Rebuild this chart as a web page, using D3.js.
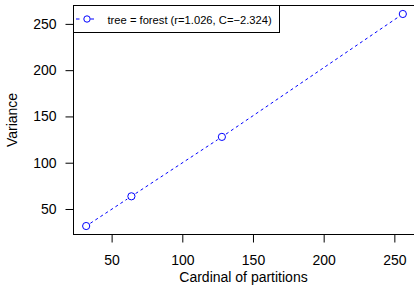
<!DOCTYPE html>
<html>
<head>
<meta charset="utf-8">
<script src="https://cdn.jsdelivr.net/npm/d3@7"></script>
<style>
  body { margin: 0; background: #fff; }
  text { font-family: "Liberation Sans", Arial, sans-serif; }
</style>
</head>
<body>
<div id="chart"></div>
<script>
var width = 414,
    height = 293;

// data
var partitions = [32, 64, 128, 256];
var variance = [31.6, 63.7, 127.9, 260.7];
var xTicks = [50, 100, 150, 200, 250];
var yTicks = [50, 100, 150, 200, 250];
var legendLabel = "tree = forest (r=1.026, C=\u22122.324)";

var pLeft = 73.5, pRight = 415.5, pTop = 5.5, pBottom = 234.5;

var svg = d3.select("#chart").append("svg")
    .attr("width", width)
    .attr("height", height);

// R style 4% expansion of the ranges
var xr = d3.extent(partitions), yr = d3.extent(variance);
var xpad = (xr[1] - xr[0]) * 0.04, ypad = (yr[1] - yr[0]) * 0.04;

var x = d3.scaleLinear()
    .domain([xr[0] - xpad, xr[1] + xpad])
    .range([pLeft, pRight]);

var y = d3.scaleLinear()
    .domain([yr[0] - ypad, yr[1] + ypad])
    .range([pBottom, pTop]);

var pts = partitions.map(function (d, i) { return {x: d, y: variance[i]}; });

// segments between points, with gaps around symbols (type = "b")
var gap = 5;
var segs = [];
for (var i = 0; i < pts.length - 1; i++) {
    var x0 = x(pts[i].x), y0 = y(pts[i].y), x1 = x(pts[i + 1].x), y1 = y(pts[i + 1].y);
    var len = Math.sqrt((x1 - x0) * (x1 - x0) + (y1 - y0) * (y1 - y0));
    var ux = (x1 - x0) / len, uy = (y1 - y0) / len;
    segs.push([x0 + ux * gap, y0 + uy * gap, x1 - ux * gap, y1 - uy * gap]);
}

svg.selectAll("line.seg")
    .data(segs)
    .enter().append("line")
    .attr("class", "seg")
    .attr("x1", function (d) { return d[0]; })
    .attr("y1", function (d) { return d[1]; })
    .attr("x2", function (d) { return d[2]; })
    .attr("y2", function (d) { return d[3]; })
    .style("stroke", "#0000ff")
    .style("stroke-width", 1)
    .style("stroke-dasharray", "3,3");

svg.selectAll("circle.pt")
    .data(pts)
    .enter().append("circle")
    .attr("class", "pt")
    .attr("cx", function (d) { return x(d.x); })
    .attr("cy", function (d) { return y(d.y); })
    .attr("r", 3.6)
    .style("fill", "none")
    .style("stroke", "#0000ff")
    .style("stroke-width", 1);

// axes
var xAxis = svg.append("g")
    .attr("transform", "translate(0," + pBottom + ")")
    .call(d3.axisBottom(x).tickValues(xTicks).tickSize(8).tickPadding(13));
var yAxis = svg.append("g")
    .attr("transform", "translate(" + pLeft + ",0)")
    .call(d3.axisLeft(y).tickValues(yTicks).tickSize(8).tickPadding(9));

[xAxis, yAxis].forEach(function (g) {
    g.select(".domain").remove();
    g.selectAll("line").style("stroke", "#000");
    g.selectAll("text")
        .style("font-family", "Liberation Sans, Arial, sans-serif")
        .style("font-size", "14px")
        .style("fill", "#000");
});

// plot box
svg.append("rect")
    .attr("x", pLeft)
    .attr("y", pTop)
    .attr("width", pRight - pLeft)
    .attr("height", pBottom - pTop)
    .style("fill", "none")
    .style("stroke", "#000")
    .style("stroke-width", 1);

svg.append("text")
    .attr("x", 243.5)
    .attr("y", 282)
    .attr("text-anchor", "middle")
    .style("font-size", "14px")
    .text("Cardinal of partitions");

svg.append("text")
    .attr("transform", "translate(17," + ((pTop + pBottom) / 2) + ") rotate(-90)")
    .attr("text-anchor", "middle")
    .style("font-size", "14px")
    .text("Variance");

// legend
var legend = svg.append("g").attr("class", "legend");
legend.append("rect")
    .attr("x", pLeft)
    .attr("y", pTop)
    .attr("width", 206)
    .attr("height", 27)
    .style("fill", "#fff")
    .style("stroke", "#000")
    .style("stroke-width", 1);
legend.append("line")
    .attr("x1", 76).attr("x2", 79.5)
    .attr("y1", 19).attr("y2", 19)
    .style("stroke", "#0000ff");
legend.append("line")
    .attr("x1", 90.5).attr("x2", 94)
    .attr("y1", 19).attr("y2", 19)
    .style("stroke", "#0000ff");
legend.append("circle")
    .attr("cx", 87).attr("cy", 19).attr("r", 3.2)
    .style("fill", "none")
    .style("stroke", "#0000ff");
legend.append("text")
    .attr("x", 107.5)
    .attr("y", 23.5)
    .style("font-size", "11.2px")
    .text(legendLabel);
</script>
</body>
</html>
